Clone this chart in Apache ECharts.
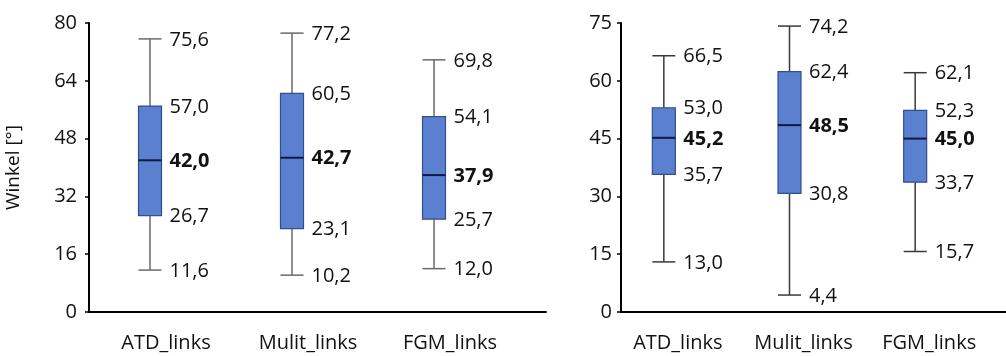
<!DOCTYPE html>
<html>
<head>
<meta charset="utf-8">
<script src="https://cdn.jsdelivr.net/npm/echarts@6/dist/echarts.min.js"></script>
<style>
html,body{margin:0;padding:0;background:#fff;}
#chart{width:1006px;height:356px;}
</style>
</head>
<body>
<div id="chart"></div>
<script>
// ---- data ----
var categories = ['ATD_links', 'Mulit_links', 'FGM_links'];

var leftMin = [11.6, 10.2, 12.0];
var leftQ1 = [26.7, 23.1, 25.7];
var leftMedian = [42.0, 42.7, 37.9];
var leftQ3 = [57.0, 60.5, 54.1];
var leftMax = [75.6, 77.2, 69.8];

var rightMin = [13.0, 4.4, 15.7];
var rightQ1 = [35.7, 30.8, 33.7];
var rightMedian = [45.2, 48.5, 45.0];
var rightQ3 = [53.0, 62.4, 52.3];
var rightMax = [66.5, 74.2, 62.1];

var leftTicks = [0, 16, 32, 48, 64, 80];
var rightTicks = [0, 15, 30, 45, 60, 75];
var yName = 'Winkel [°]';

// ---- build ----
var FONT = '"Open Sans", "Noto Sans", sans-serif';
function fmt(v) { return v.toFixed(1).replace('.', ','); }
function rows(mn, q1, md, q3, mx) {
  return categories.map(function (c, i) { return [i, mn[i], q1[i], md[i], q3[i], mx[i]]; });
}

function makeRender(whiskerColor) {
  return function (params, api) {
    var x = api.value(0);
    var vals = [api.value(1), api.value(2), api.value(3), api.value(4), api.value(5)];
    var p = vals.map(function (v) { return api.coord([x, v]); });
    var cx = p[0][0];
    var hw = 11.5;
    var children = [];
    var ls = { stroke: whiskerColor, lineWidth: 1.5 };
    // whiskers
    children.push({ type: 'line', shape: { x1: cx, y1: p[0][1], x2: cx, y2: p[1][1] }, style: ls });
    children.push({ type: 'line', shape: { x1: cx, y1: p[3][1], x2: cx, y2: p[4][1] }, style: ls });
    children.push({ type: 'line', shape: { x1: cx - hw, y1: p[0][1], x2: cx + hw, y2: p[0][1] }, style: ls });
    children.push({ type: 'line', shape: { x1: cx - hw, y1: p[4][1], x2: cx + hw, y2: p[4][1] }, style: ls });
    // box
    children.push({ type: 'rect', shape: { x: cx - hw, y: p[3][1], width: hw * 2, height: p[1][1] - p[3][1] },
      style: { fill: '#5a80cf', stroke: '#2f4f8e', lineWidth: 1.2 } });
    // median
    children.push({ type: 'line', shape: { x1: cx - hw, y1: p[2][1], x2: cx + hw, y2: p[2][1] },
      style: { stroke: '#0c1a44', lineWidth: 2 } });
    // labels
    for (var k = 0; k < 5; k++) {
      children.push({
        type: 'text', x: cx + hw + 8, y: p[k][1] + 1,
        style: {
          text: fmt(vals[k]),
          font: (k === 2 ? 'bold ' : '') + '20px ' + FONT,
          fill: '#111',
          align: 'left', verticalAlign: 'middle',
          textAlign: 'left', textVerticalAlign: 'middle'
        }
      });
    }
    return { type: 'group', children: children };
  };
}

var chart = echarts.init(document.getElementById('chart'), null, { renderer: 'canvas' });

var axisLineStyle = { color: '#000', width: 2 };

var option = {
  backgroundColor: '#fff',
  animation: false,
  grid: [
    // left: axes grid
    { left: 89, right: 460, top: 23, bottom: 44 },
    // left: boxes grid
    { left: 79, right: 501, top: 23, bottom: 44 },
    // right: axes grid
    { left: 621, right: 0, top: 23, bottom: 44 },
    // right: boxes grid
    { left: 601, right: 28, top: 23, bottom: 44 }
  ],
  xAxis: [
    { gridIndex: 0, type: 'category', data: categories, axisLine: { show: true, lineStyle: axisLineStyle },
      axisTick: { show: false }, axisLabel: { show: false } },
    { gridIndex: 1, type: 'category', data: categories, axisLine: { show: false }, axisTick: { show: false },
      axisLabel: { show: true, interval: 0, hideOverlap: false, margin: 21, fontFamily: FONT, fontSize: 20, color: '#111', padding: [0, 0, 0, 32] } },
    { gridIndex: 2, type: 'category', data: categories, axisLine: { show: true, lineStyle: axisLineStyle },
      axisTick: { show: false }, axisLabel: { show: false } },
    { gridIndex: 3, type: 'category', data: categories, axisLine: { show: false }, axisTick: { show: false },
      axisLabel: { show: true, interval: 0, hideOverlap: false, margin: 21, fontFamily: FONT, fontSize: 20, color: '#111', padding: [0, 0, 0, 28] } }
  ],
  yAxis: [
    { gridIndex: 0, type: 'value', min: leftTicks[0], max: leftTicks[leftTicks.length - 1], interval: leftTicks[1] - leftTicks[0],
      name: yName, nameLocation: 'middle', nameGap: 66, nameTextStyle: { fontFamily: FONT, fontSize: 19, color: '#111' },
      axisLine: { show: true, lineStyle: axisLineStyle }, axisTick: { show: true, length: 4, lineStyle: { color: '#000', width: 1.5 } },
      splitLine: { show: false }, axisLabel: { margin: 12, fontFamily: FONT, fontSize: 20, color: '#111' } },
    { gridIndex: 1, type: 'value', min: leftTicks[0], max: leftTicks[leftTicks.length - 1], show: false, splitLine: { show: false } },
    { gridIndex: 2, type: 'value', min: rightTicks[0], max: rightTicks[rightTicks.length - 1], interval: rightTicks[1] - rightTicks[0],
      axisLine: { show: true, lineStyle: axisLineStyle }, axisTick: { show: true, length: 4, lineStyle: { color: '#000', width: 1.5 } },
      splitLine: { show: false }, axisLabel: { margin: 9, fontFamily: FONT, fontSize: 20, color: '#111' } },
    { gridIndex: 3, type: 'value', min: rightTicks[0], max: rightTicks[rightTicks.length - 1], show: false, splitLine: { show: false } }
  ],
  series: [
    { type: 'custom', xAxisIndex: 1, yAxisIndex: 1, renderItem: makeRender('#6a6a6a'),
      encode: { x: 0, y: [1, 2, 3, 4, 5] }, data: rows(leftMin, leftQ1, leftMedian, leftQ3, leftMax), clip: false },
    { type: 'custom', xAxisIndex: 3, yAxisIndex: 3, renderItem: makeRender('#3a3a3a'),
      encode: { x: 0, y: [1, 2, 3, 4, 5] }, data: rows(rightMin, rightQ1, rightMedian, rightQ3, rightMax), clip: false }
  ]
};
chart.setOption(option);
</script>
</body>
</html>
